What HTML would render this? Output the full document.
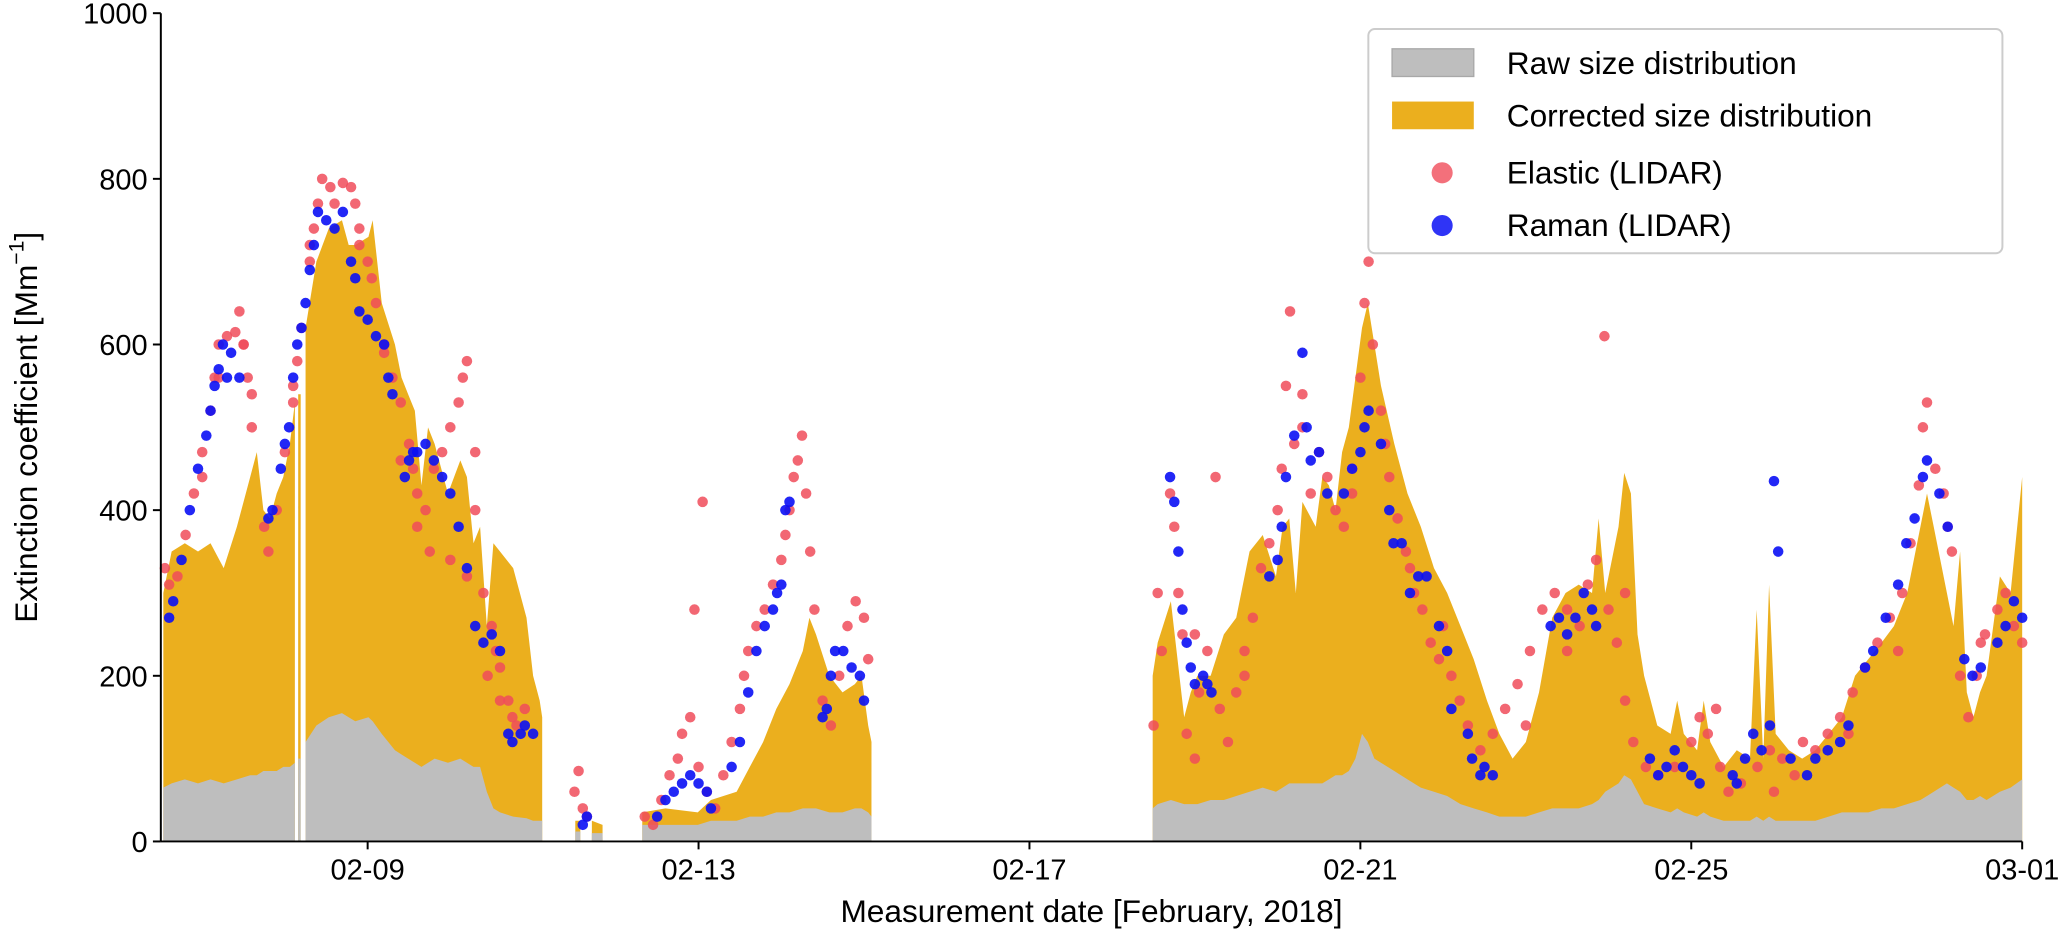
<!DOCTYPE html>
<html><head><meta charset="utf-8"><style>
html,body{margin:0;padding:0;background:#fff;}
svg{display:block;font-family:"Liberation Sans","DejaVu Sans",sans-serif;}
</style></head><body>
<svg id="chart" width="2067" height="943" viewBox="0 0 1568 715" preserveAspectRatio="none" xmlns="http://www.w3.org/2000/svg">
<g id="plot"></g>
<g id="axes"></g>
<g id="legend">
<rect x="1038" y="22" width="481" height="170" rx="5" fill="#fff" fill-opacity="0.85" stroke="#ccc" stroke-width="1.5"/>
<g><rect x="1056" y="37" width="62" height="21" fill="#bebebe" stroke="#a8a8a8"/><text x="1143" y="56" font-size="24">Raw size distribution</text></g>
<g><rect x="1056" y="77" width="62" height="21" fill="#ebaf1e"/><text x="1143" y="96" font-size="24">Corrected size distribution</text></g>
<g><circle cx="1094" cy="131" r="8" fill="#f04c5a" fill-opacity="0.8"/><text x="1143" y="139" font-size="24">Elastic (LIDAR)</text></g>
<g><circle cx="1094" cy="171" r="8" fill="#0a10f5" fill-opacity="0.85"/><text x="1143" y="179" font-size="24">Raman (LIDAR)</text></g>
</g>
</svg>
<script>
const days = [6.53,6.63,6.79,6.95,7.10,7.26,7.42,7.58,7.66,7.74,7.82,7.90,7.98,8.06,8.12,null,8.16,8.19,null,8.25,8.38,8.53,8.69,8.77,8.85,9.01,9.06,9.17,9.33,9.41,9.49,9.57,9.65,9.73,9.81,9.97,10.12,10.20,10.28,10.36,10.44,10.52,10.60,10.76,10.92,11.00,11.08,11.11,null,11.51,11.57,null,11.71,11.84,null,12.32,12.6,12.99,13.15,13.46,13.62,13.78,13.94,14.10,14.26,14.34,14.42,14.58,14.74,14.89,14.97,15.05,15.09,null,18.49,18.55,18.71,18.87,18.95,19.03,19.19,19.35,19.50,19.66,19.82,19.98,20.06,20.14,20.22,20.30,20.46,20.54,20.62,20.70,20.78,20.86,20.94,21.02,21.09,21.17,21.25,21.41,21.57,21.73,21.89,22.05,22.21,22.37,22.53,22.68,22.84,23.00,23.16,23.32,23.48,23.64,23.80,23.88,23.96,24.12,24.19,24.27,24.35,24.43,24.59,24.75,24.83,24.91,25.07,25.15,25.23,25.39,25.55,25.71,25.79,25.87,25.94,26.02,26.18,26.34,26.50,26.66,26.82,26.98,27.14,27.30,27.45,27.61,27.77,27.85,27.93,28.09,28.17,28.25,28.33,28.41,28.49,28.57,28.73,28.86,29.0];
const corrected = [300,350,360,350,360,330,380,440,470,400,390,420,440,480,530,null,540,540,null,620,700,740,750,720,720,730,750,650,600,560,540,520,430,500,480,420,460,440,360,380,260,360,350,330,270,200,170,150,null,25,25,null,25,20,null,35,40,35,50,60,90,120,160,190,230,270,250,200,180,190,200,140,120,null,200,240,290,150,180,200,200,250,270,350,370,320,380,390,300,410,380,440,430,400,470,500,560,620,650,600,550,480,420,380,330,300,260,220,170,130,100,120,180,270,300,310,300,390,300,380,445,420,250,200,140,130,170,130,110,170,120,90,110,100,280,100,310,130,110,100,110,130,150,200,220,240,260,300,380,420,380,300,260,350,180,150,180,200,320,300,440];
const raw = [65,70,75,70,75,70,75,80,80,85,85,85,90,90,95,null,100,100,null,120,140,150,155,150,145,150,145,130,110,105,100,95,90,95,100,95,100,95,90,90,60,40,35,30,28,25,25,25,null,12,12,null,10,10,null,20,20,20,25,25,30,30,35,35,40,40,40,35,35,40,40,35,30,null,40,45,50,45,45,45,50,50,55,60,65,60,65,70,70,70,70,70,75,80,80,85,100,130,120,100,95,85,75,65,60,55,45,40,35,30,30,30,35,40,40,40,45,50,60,70,80,75,60,45,40,35,40,35,30,35,30,25,25,25,30,25,30,25,25,25,25,30,35,35,35,40,40,45,50,55,60,70,65,60,50,50,55,50,60,65,75];
const elasticDays = [6.55,6.6,6.7,6.8,6.9,7.0,7.1,7.15,7.2,7.3,7.4,7.45,7.5,7.55,7.6,7.75,7.8,7.9,8.0,8.1,8.15,8.2,8.3,8.35,8.4,8.45,8.55,8.7,8.8,8.85,8.9,9.0,9.05,9.1,9.2,9.3,9.4,9.5,9.55,9.6,9.7,9.8,9.9,10.0,10.1,10.15,10.2,10.3,10.4,10.5,10.55,10.6,10.7,10.75,10.8,10.9,7.0,7.2,7.5,7.6,8.1,8.3,8.6,8.9,9.2,9.4,9.6,9.75,10.0,10.2,10.3,10.45,10.6,11.5,11.55,11.6,11.65,12.35,12.45,12.55,12.65,12.75,12.8,12.9,12.95,13.0,13.05,13.1,13.2,13.3,13.4,13.5,13.55,13.6,13.7,13.8,13.9,14.0,14.05,14.1,14.15,14.2,14.25,14.3,14.35,14.4,14.5,14.6,14.7,14.8,14.9,15.0,15.05,18.5,18.55,18.6,18.7,18.75,18.8,18.85,18.9,19.0,19.05,19.15,19.25,19.3,19.4,19.5,19.6,19.7,19.8,19.9,20.0,20.05,20.1,20.15,20.2,20.3,20.4,20.5,20.6,20.7,20.8,20.9,21.0,21.05,21.1,21.15,21.25,21.35,21.45,21.55,21.65,21.75,21.85,21.95,22.1,22.2,22.3,22.45,22.6,22.75,22.9,23.05,23.2,23.35,23.5,23.65,23.75,23.85,23.95,24.0,24.1,24.2,24.3,24.45,24.6,24.8,25.0,25.1,25.2,25.35,25.45,25.6,25.8,25.95,26.1,26.25,26.35,26.5,26.65,26.8,26.95,27.1,27.25,27.4,27.55,27.65,27.75,27.8,27.85,27.95,28.05,28.15,28.25,28.35,28.45,28.55,28.7,28.8,28.9,29.0,19.0,19.6,20.3,20.9,21.3,21.6,22.0,23.0,23.5,24.2,25.3,26.0,26.9,27.5,28.1,28.5];
const elasticVals = [330,310,320,370,420,470,520,560,600,610,615,640,600,560,540,380,350,400,470,550,580,620,700,740,770,800,790,795,790,770,740,700,680,650,590,560,530,480,450,420,400,450,470,500,530,560,580,470,300,260,230,210,170,150,140,160,440,560,600,500,530,720,770,720,600,460,380,350,340,320,400,200,170,60,85,40,30,30,20,50,80,100,130,150,280,90,410,60,40,80,120,160,200,230,260,280,310,340,370,400,440,460,490,420,350,280,170,140,200,260,290,270,220,140,300,230,420,380,300,250,130,100,180,230,440,160,120,180,230,270,330,360,400,450,550,640,480,540,420,470,440,400,380,450,560,650,700,600,520,440,390,350,300,280,240,220,200,170,140,110,130,160,190,230,280,300,280,260,310,340,610,280,240,170,120,90,80,90,120,150,130,90,60,70,90,110,100,80,120,110,130,150,180,210,240,270,300,360,430,500,530,450,420,350,200,150,200,250,280,300,260,240,250,200,500,420,480,330,260,140,230,300,160,60,130,230,380,240];
const ramanDays = [6.6,6.65,6.75,6.85,6.95,7.05,7.1,7.15,7.2,7.25,7.3,7.35,7.45,7.8,7.85,7.95,8.0,8.05,8.1,8.15,8.2,8.25,8.3,8.35,8.4,8.5,8.6,8.7,8.8,8.85,8.9,9.0,9.1,9.2,9.25,9.3,9.45,9.5,9.55,9.6,9.7,9.8,9.9,10.0,10.1,10.2,10.3,10.4,10.5,10.6,10.7,10.75,10.85,10.9,11.0,11.6,11.65,12.5,12.6,12.7,12.8,12.9,13.0,13.1,13.15,13.4,13.5,13.6,13.7,13.8,13.9,13.95,14.0,14.05,14.1,14.5,14.55,14.6,14.65,14.75,14.85,14.95,15.0,18.7,18.75,18.8,18.85,18.9,18.95,19.0,19.1,19.15,19.2,19.9,20.0,20.05,20.1,20.2,20.3,20.35,20.4,20.5,20.6,20.8,20.9,21.0,21.05,21.1,21.25,21.35,21.4,21.5,21.6,21.7,21.8,21.95,22.05,22.1,22.3,22.35,22.45,22.5,22.6,23.3,23.4,23.5,23.6,23.7,23.8,23.85,24.5,24.6,24.7,24.8,24.9,25.0,25.1,25.5,25.55,25.65,25.75,25.85,25.95,26.0,26.05,26.2,26.4,26.5,26.65,26.8,26.9,27.1,27.2,27.35,27.5,27.6,27.7,27.8,27.85,28.0,28.1,28.3,28.4,28.5,28.7,28.8,28.9,29.0];
const ramanVals = [270,290,340,400,450,490,520,550,570,600,560,590,560,390,400,450,480,500,560,600,620,650,690,720,760,750,740,760,700,680,640,630,610,600,560,540,440,460,470,470,480,460,440,420,380,330,260,240,250,230,130,120,130,140,130,20,30,30,50,60,70,80,70,60,40,90,120,180,230,260,280,300,310,400,410,150,160,200,230,230,210,200,170,440,410,350,280,240,210,190,200,190,180,320,340,380,440,490,590,500,460,470,420,420,450,470,500,520,480,400,360,360,300,320,320,260,230,160,130,100,80,90,80,260,270,250,270,300,280,260,100,80,90,110,90,80,70,80,70,100,130,110,140,435,350,100,80,100,110,120,140,210,230,270,310,360,390,440,460,420,380,220,200,210,240,260,290,270];
const xTicks = [9,13,17,21,25,29];
const xTickLabels = ["02-09","02-13","02-17","02-21","02-25","03-01"];
const yTicks = [0,200,400,600,800,1000];

const NS="http://www.w3.org/2000/svg";
const X0=122,X1=1534,D0=6.5,D1=29,Y0=638,Y1=10,V1=1000;
function xs(d){return X0+(d-D0)/(D1-D0)*(X1-X0);}
function ys(v){return Y0-v/V1*(Y0-Y1);}
const plot=document.getElementById('plot'), axes=document.getElementById('axes');
function mk(tag,attrs,parent){const e=document.createElementNS(NS,tag);for(const k in attrs)e.setAttribute(k,attrs[k]);parent.appendChild(e);return e;}

function drawArea(vals,fill,name){
  let seg=[];
  const segs=[];
  for(let i=0;i<days.length;i++){
    if(days[i]===null||vals[i]===null){if(seg.length)segs.push(seg);seg=[];}
    else seg.push([days[i],vals[i]]);
  }
  if(seg.length)segs.push(seg);
  segs.forEach(s=>{
    let d='M'+xs(s[0][0])+','+Y0;
    s.forEach(p=>{d+=' L'+xs(p[0]).toFixed(1)+','+ys(p[1]).toFixed(1);});
    d+=' L'+xs(s[s.length-1][0])+','+Y0+' Z';
    const p=mk('path',{d:d,fill:fill},plot);
    
    
  });
}
drawArea(corrected,'#ebaf1e','corrected-area');
drawArea(raw,'#bebebe','raw-area');

elasticDays.forEach((d,i)=>{
  const c=mk('circle',{cx:xs(d).toFixed(1),cy:ys(elasticVals[i]).toFixed(1),r:4,fill:'#f04c5a','fill-opacity':0.85},plot);
  
  
});
ramanDays.forEach((d,i)=>{
  const c=mk('circle',{cx:xs(d).toFixed(1),cy:ys(ramanVals[i]).toFixed(1),r:4,fill:'#0a10f5','fill-opacity':0.9},plot);
  
  
});

mk('line',{x1:X0,y1:Y1,x2:X0,y2:Y0,stroke:'#000','stroke-width':1.5},axes);
mk('line',{x1:X0,y1:Y0,x2:X1,y2:Y0,stroke:'#000','stroke-width':1.5},axes);
yTicks.forEach(v=>{
  mk('line',{x1:X0-6,y1:ys(v),x2:X0,y2:ys(v),stroke:'#000','stroke-width':1.5},axes);
  const t=mk('text',{x:X0-10,y:ys(v)+8,'font-size':22,'text-anchor':'end'},axes);
  t.textContent=v;
  
  
});
xTicks.forEach((d,i)=>{
  mk('line',{x1:xs(d),y1:Y0,x2:xs(d),y2:Y0+6,stroke:'#000','stroke-width':1.5},axes);
  const t=mk('text',{x:xs(d),y:Y0+29,'font-size':22,'text-anchor':'middle'},axes);
  t.textContent=xTickLabels[i];
  
  
});
const xt=mk('text',{x:(X0+X1)/2,y:Y0+61,'font-size':24,'text-anchor':'middle'},axes);
xt.textContent='Measurement date [February, 2018]';


const yt=mk('text',{x:0,y:0,'font-size':24,'text-anchor':'middle',transform:'translate(28,'+((Y0+Y1)/2)+') rotate(-90)'},axes);
yt.innerHTML='Extinction coefficient [Mm<tspan font-size="16" dy="-10">−1</tspan><tspan dy="10">]</tspan>';


</script>
</body></html>
